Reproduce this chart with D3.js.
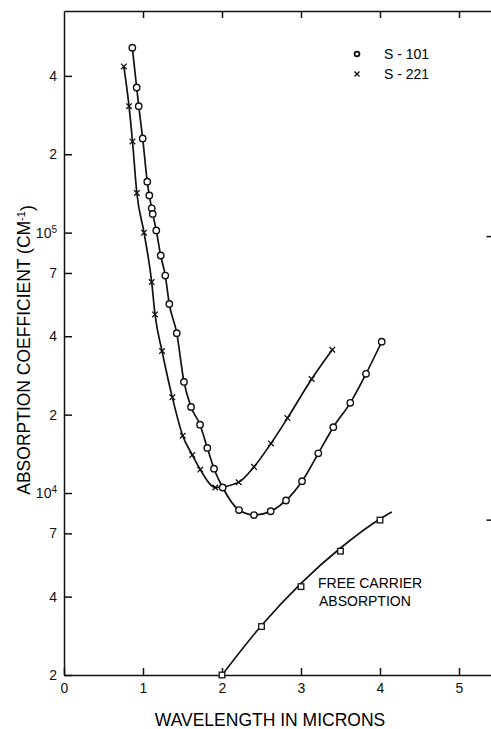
<!DOCTYPE html>
<html>
<head>
<meta charset="utf-8">
<script src="https://cdn.jsdelivr.net/npm/d3@7"></script>
<style>
  body { margin: 0; background: #fff; }
  svg { display: block; font-family: "Liberation Sans", Arial, sans-serif; }
  .axis path, .axis line { stroke: #111; stroke-width: 1.5; }
  .axis text { font-size: 14px; fill: #111; }
</style>
</head>
<body>
<div id="chart"></div>
<script>
// sample S-101 (circles)
const s101Wavelength = [0.865, 0.92, 0.946, 0.996, 1.054, 1.08, 1.11, 1.123, 1.168, 1.224, 1.282, 1.333, 1.427, 1.519, 1.608, 1.722, 1.814, 1.899, 2.009, 2.215, 2.405, 2.616, 2.81, 3.013, 3.219, 3.409, 3.624, 3.823, 4.022];
const s101Alpha = [5.13e5, 3.61e5, 3.06e5, 2.30e5, 1.57e5, 1.39e5, 1.24e5, 1.18e5, 1.02e5, 8.17e4, 6.84e4, 5.32e4, 4.11e4, 2.67e4, 2.14e4, 1.83e4, 1.49e4, 1.24e4, 1.05e4, 8.6e3, 8.23e3, 8.51e3, 9.36e3, 1.11e4, 1.42e4, 1.79e4, 2.22e4, 2.87e4, 3.81e4];

// sample S-221 (crosses)
const s221Wavelength = [0.757, 0.823, 0.867, 0.922, 1.013, 1.11, 1.152, 1.241, 1.371, 1.503, 1.624, 1.725, 1.915, 2.211, 2.405, 2.62, 2.829, 3.135, 3.396];
const s221Alpha = [4.35e5, 3.06e5, 2.24e5, 1.42e5, 1.0e5, 6.46e4, 4.85e4, 3.51e4, 2.33e4, 1.66e4, 1.40e4, 1.23e4, 1.05e4, 1.10e4, 1.26e4, 1.55e4, 1.94e4, 2.74e4, 3.55e4];

// free carrier absorption (squares) and its fitted curve
const freeWavelength = [2.0, 2.5, 3.0, 3.5, 4.0];
const freeAlpha = [2.0e3, 3.07e3, 4.37e3, 5.98e3, 7.87e3];
const freeFitWavelength = [2.0, 2.5, 3.0, 3.5, 4.0, 4.15];
const freeFitAlpha = [2.0e3, 3.1e3, 4.5e3, 6.15e3, 7.95e3, 8.45e3];

const xTicks = [0, 1, 2, 3, 4, 5];
const yTicks = [2e3, 4e3, 7e3, 1e4, 2e4, 4e4, 7e4, 1e5, 2e5, 4e5];
const yTickLabels = ["2", "4", "7", "10|4", "2", "4", "7", "10|5", "2", "4"];
const rightTicks = [9.7e4, 7.9e3];

const width = 491, height = 729;
const plotLeft = 64, plotTop = 11, plotBottom = 675;

const svg = d3.select("#chart").append("svg")
    .attr("width", width)
    .attr("height", height);

const x = d3.scaleLinear().domain([0, 5.5]).range([plotLeft, plotLeft + 5.5 * 79]);
const y = d3.scaleLog().domain([2e3, 7.1e5]).range([plotBottom, plotTop]);

// axes, ticks pointing inward
svg.append("g")
    .attr("class", "axis")
    .attr("transform", `translate(0,${plotBottom})`)
    .call(d3.axisBottom(x).tickValues(xTicks).tickSizeInner(-7).tickSizeOuter(0).tickPadding(8).tickFormat(d3.format("d")));

svg.append("g")
    .attr("class", "axis")
    .attr("transform", `translate(0,${plotTop})`)
    .call(d3.axisTop(x).tickValues(xTicks.slice(1)).tickSizeInner(-7).tickSizeOuter(0).tickFormat(""));

const yAxis = svg.append("g")
    .attr("class", "axis")
    .attr("transform", `translate(${plotLeft},0)`)
    .call(d3.axisLeft(y).tickValues(yTicks).tickSizeInner(-8).tickSizeOuter(0).tickPadding(7).tickFormat((d, i) => yTickLabels[i]));

yAxis.selectAll(".tick text").each(function(d, i) {
    const parts = yTickLabels[i].split("|");
    const t = d3.select(this).text(parts[0]);
    if (parts[1]) {
        t.append("tspan").attr("dy", "-0.45em").attr("font-size", "10px").text(parts[1]);
    }
});

// right frame ticks (frame itself is cut off)
svg.append("g")
    .attr("class", "axis")
    .attr("transform", `translate(${x(5.5)},0)`)
    .call(d3.axisRight(y).tickValues(rightTicks).tickSizeInner(-12).tickSizeOuter(0).tickFormat(""));

// curves
const line = d3.line()
    .x(d => x(d[0]))
    .y(d => y(d[1]))
    .curve(d3.curveMonotoneX);

const s101 = s101Wavelength.map((w, i) => [w, s101Alpha[i]]);
const s221 = s221Wavelength.map((w, i) => [w, s221Alpha[i]]);
const free = freeWavelength.map((w, i) => [w, freeAlpha[i]]);
const freeFit = freeFitWavelength.map((w, i) => [w, freeFitAlpha[i]]);

[s221, s101, freeFit].forEach(data => {
    svg.append("path")
        .datum(data)
        .attr("d", line)
        .attr("fill", "none")
        .attr("stroke", "#111")
        .attr("stroke-width", 1.7);
});

// markers
svg.append("g").selectAll("path")
    .data(s221)
    .enter().append("path")
    .attr("transform", d => `translate(${x(d[0])},${y(d[1])})`)
    .attr("d", "M-2.8,-2.8L2.8,2.8M-2.8,2.8L2.8,-2.8")
    .attr("stroke", "#111")
    .attr("stroke-width", 1.3);

svg.append("g").selectAll("circle")
    .data(s101)
    .enter().append("circle")
    .attr("cx", d => x(d[0]))
    .attr("cy", d => y(d[1]))
    .attr("r", 3.2)
    .attr("fill", "#fff")
    .attr("stroke", "#111")
    .attr("stroke-width", 1.4);

svg.append("g").selectAll("rect")
    .data(free)
    .enter().append("rect")
    .attr("x", d => x(d[0]) - 2.8)
    .attr("y", d => y(d[1]) - 2.8)
    .attr("width", 5.6)
    .attr("height", 5.6)
    .attr("fill", "#fff")
    .attr("stroke", "#111")
    .attr("stroke-width", 1.3);

// legend
svg.append("circle")
    .attr("cx", 357).attr("cy", 54).attr("r", 2.4)
    .attr("fill", "#fff").attr("stroke", "#111").attr("stroke-width", 1.8);
svg.append("path")
    .attr("d", "M354.5,71.5L359.5,76.5M354.5,76.5L359.5,71.5")
    .attr("stroke", "#111").attr("stroke-width", 1.4);
svg.append("text").attr("x", 384).attr("y", 59).attr("font-size", "14px").text("S - 101");
svg.append("text").attr("x", 384).attr("y", 79).attr("font-size", "14px").text("S - 221");

// annotation
svg.append("text").attr("x", 318).attr("y", 588).attr("font-size", "14px").text("FREE CARRIER");
svg.append("text").attr("x", 319).attr("y", 606).attr("font-size", "14px").text("ABSORPTION");

// axis titles
svg.append("text")
    .attr("x", 270).attr("y", 726)
    .attr("text-anchor", "middle")
    .attr("font-size", "17.5px")
    .text("WAVELENGTH IN MICRONS");

const yTitle = svg.append("text")
    .attr("transform", "translate(30,350) rotate(-90)")
    .attr("text-anchor", "middle")
    .attr("font-size", "17.5px")
    .text("ABSORPTION COEFFICIENT (CM");
yTitle.append("tspan").attr("dy", "-0.45em").attr("font-size", "11px").text("-1");
yTitle.append("tspan").attr("dy", "0.45em").text(")");
</script>
</body>
</html>
